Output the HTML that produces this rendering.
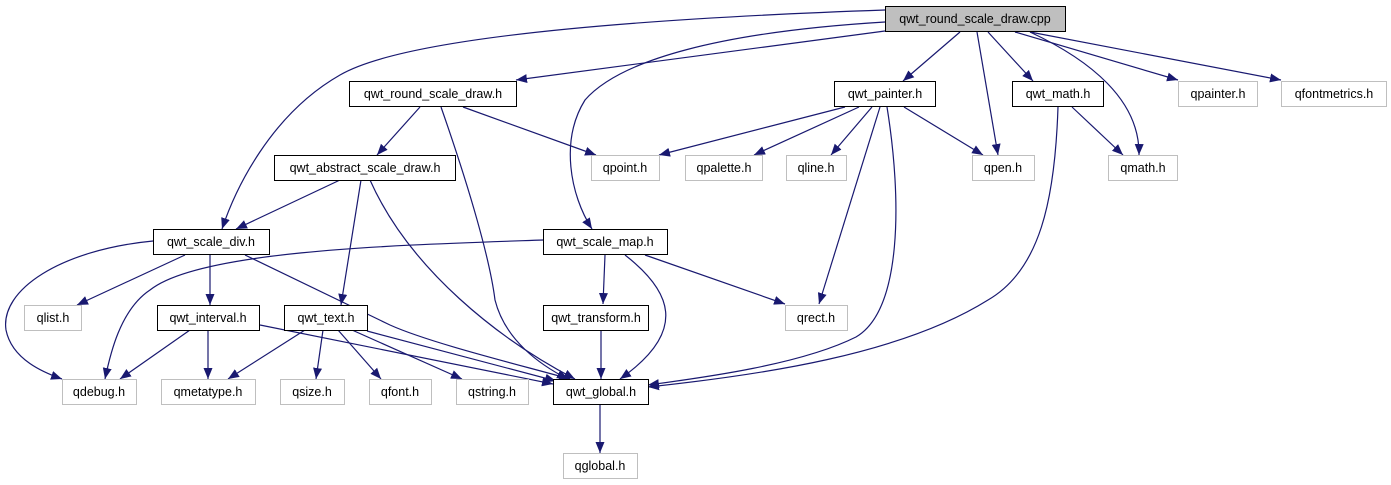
<!DOCTYPE html>
<html><head><meta charset="utf-8"><style>
html,body{margin:0;padding:0;background:#fff;width:1391px;height:485px;overflow:hidden}
svg text{font-family:"Liberation Sans",Arial,sans-serif;font-size:12.5px;fill:#000;text-anchor:middle}
</style></head><body>
<svg width="1391" height="485" viewBox="0 0 1391 485" xmlns="http://www.w3.org/2000/svg">
<defs><marker id="a" viewBox="0 0 11 10" refX="11" refY="5" markerWidth="11" markerHeight="10" markerUnits="userSpaceOnUse" orient="auto"><path d="M0,0.5 L11,5 L0,9.5 z" fill="#191970"/></marker></defs>
<g fill="none" stroke="#191970" stroke-width="1.2" marker-end="url(#a)">
<path d="M885,10 C600,20 400,40 340,75 C270,115 235,190 222,229"/>
<path d="M885,31 L516,80"/>
<path d="M885,22 C720,32 620,60 585,100 C560,140 570,195 592,229"/>
<path d="M960,32 L903,81"/>
<path d="M977,32 L998,155"/>
<path d="M988,32 L1033,81"/>
<path d="M1030,32 C1090,60 1140,100 1139,155"/>
<path d="M1015,32 L1178,80"/>
<path d="M1030,32 L1281,80"/>
<path d="M420,107 L377,155"/>
<path d="M463,107 L596,155"/>
<path d="M441,107 C470,190 490,260 495,300 C505,340 540,365 568,379"/>
<path d="M340,180 L236,229"/>
<path d="M361,180 L341,305"/>
<path d="M370,180 C410,270 500,340 575,379"/>
<path d="M845,107 L659,155"/>
<path d="M859,107 L754,155"/>
<path d="M872,107 L831,155"/>
<path d="M880,107 L819,304"/>
<path d="M887,107 C902,200 902,310 856,337 C800,365 700,378 648,385"/>
<path d="M904,107 L983,155"/>
<path d="M1072,107 L1123,155"/>
<path d="M1058,107 C1055,200 1040,270 988,300 C900,355 760,375 648,387"/>
<path d="M153,241 C60,250 0,290 6,330 C12,360 45,373 62,379"/>
<path d="M185,255 L77,305"/>
<path d="M210,255 L210,305"/>
<path d="M245,255 L390,325 C430,343 520,365 570,379"/>
<path d="M543,240 C400,245 200,250 150,290 C120,310 110,355 105,379"/>
<path d="M605,255 L603,304"/>
<path d="M625,255 C670,290 690,330 620,379"/>
<path d="M645,255 L785,304"/>
<path d="M190,330 L120,379"/>
<path d="M208,330 L208,379"/>
<path d="M260,325 L553,384"/>
<path d="M305,330 L228,379"/>
<path d="M323,330 L316,379"/>
<path d="M338,330 L381,379"/>
<path d="M352,330 L462,379"/>
<path d="M367,331 L556,381"/>
<path d="M601,330 L601,379"/>
<path d="M600,404 L600,453"/>
</g>
<g stroke-width="1">
<rect x="885.5" y="6.5" width="180" height="25" fill="#bfbfbf" stroke="#000"/>
<g fill="#fff" stroke="#000">
<rect x="349.5" y="81.5" width="167" height="25"/>
<rect x="834.5" y="81.5" width="101" height="25"/>
<rect x="1012.5" y="81.5" width="91" height="25"/>
<rect x="274.5" y="155.5" width="181" height="25"/>
<rect x="153.5" y="229.5" width="116" height="25"/>
<rect x="543.5" y="229.5" width="124" height="25"/>
<rect x="157.5" y="305.5" width="102" height="25"/>
<rect x="284.5" y="305.5" width="83" height="25"/>
<rect x="543.5" y="305.5" width="105" height="25"/>
<rect x="553.5" y="379.5" width="95" height="25"/>
</g>
<g fill="#fff" stroke="#bfbfbf">
<rect x="1178.5" y="81.5" width="79" height="25"/>
<rect x="1281.5" y="81.5" width="105" height="25"/>
<rect x="591.5" y="155.5" width="68" height="25"/>
<rect x="685.5" y="155.5" width="77" height="25"/>
<rect x="786.5" y="155.5" width="60" height="25"/>
<rect x="972.5" y="155.5" width="62" height="25"/>
<rect x="1108.5" y="155.5" width="69" height="25"/>
<rect x="24.5" y="305.5" width="57" height="25"/>
<rect x="785.5" y="305.5" width="62" height="25"/>
<rect x="62.5" y="379.5" width="74" height="25"/>
<rect x="161.5" y="379.5" width="94" height="25"/>
<rect x="280.5" y="379.5" width="64" height="25"/>
<rect x="369.5" y="379.5" width="62" height="25"/>
<rect x="456.5" y="379.5" width="72" height="25"/>
<rect x="563.5" y="453.5" width="74" height="25"/>
</g>
</g>
<g>
<text x="975" y="23">qwt_round_scale_draw.cpp</text>
<text x="433" y="98">qwt_round_scale_draw.h</text>
<text x="885" y="98">qwt_painter.h</text>
<text x="1058" y="98">qwt_math.h</text>
<text x="1218" y="98">qpainter.h</text>
<text x="1334" y="98">qfontmetrics.h</text>
<text x="365" y="172">qwt_abstract_scale_draw.h</text>
<text x="625" y="172">qpoint.h</text>
<text x="724" y="172">qpalette.h</text>
<text x="816" y="172">qline.h</text>
<text x="1003" y="172">qpen.h</text>
<text x="1143" y="172">qmath.h</text>
<text x="211" y="246">qwt_scale_div.h</text>
<text x="605" y="246">qwt_scale_map.h</text>
<text x="53" y="322">qlist.h</text>
<text x="208" y="322">qwt_interval.h</text>
<text x="326" y="322">qwt_text.h</text>
<text x="596" y="322">qwt_transform.h</text>
<text x="816" y="322">qrect.h</text>
<text x="99" y="396">qdebug.h</text>
<text x="208" y="396">qmetatype.h</text>
<text x="312" y="396">qsize.h</text>
<text x="400" y="396">qfont.h</text>
<text x="492" y="396">qstring.h</text>
<text x="601" y="396">qwt_global.h</text>
<text x="600" y="470">qglobal.h</text>
</g>
</svg>
</body></html>
